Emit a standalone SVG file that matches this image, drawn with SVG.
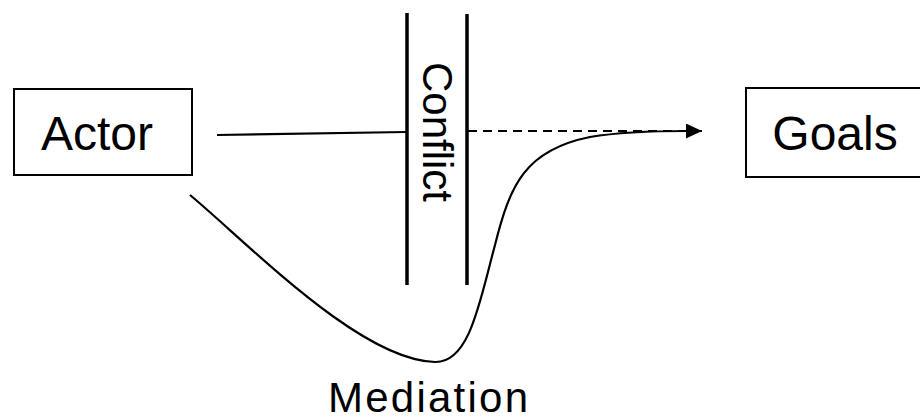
<svg xmlns="http://www.w3.org/2000/svg" width="920" height="420" viewBox="0 0 920 420">
  <style>
    .box { fill: #ffffff; stroke: #000000; stroke-width: 2; }
    .lbl { font-family: "Liberation Sans", Arial, sans-serif; fill: #000000; }
    .bar { stroke: #000000; stroke-width: 3.5; fill: none; }
    .conn { stroke: #000000; stroke-width: 2.2; fill: none; }
  </style>
  <defs>
    <marker id="arrow" markerUnits="userSpaceOnUse" markerWidth="18" markerHeight="16" refX="16" refY="7.5" orient="auto">
      <path d="M0,0 L16,7.5 L0,15 Z" fill="#000000"/>
    </marker>
  </defs>
  <rect width="920" height="420" fill="#ffffff"/>
  <g id="actor">
    <rect class="box" x="14" y="89" width="178" height="86"/>
    <text class="lbl" x="97" y="150" font-size="48" text-anchor="middle">Actor</text>
  </g>
  <g id="goals">
    <rect class="box" x="746" y="88" width="190" height="89"/>
    <text class="lbl" x="835" y="150" font-size="48" text-anchor="middle">Goals</text>
  </g>
  <g id="conflict">
    <line class="bar" x1="407" y1="13" x2="407" y2="285"/>
    <line class="bar" x1="467" y1="14" x2="467" y2="285"/>
    <text class="lbl" transform="translate(423,132) rotate(90)" font-size="42" text-anchor="middle">Conflict</text>
  </g>
  <g id="mediation">
    <text class="lbl" x="428" y="412" font-size="42" text-anchor="middle" textLength="200" lengthAdjust="spacing">Mediation</text>
  </g>
  <g id="connectors">
    <line class="conn" x1="217" y1="135" x2="406" y2="132"/>
    <line class="conn" x1="468" y1="131" x2="702" y2="131" stroke-dasharray="9,6" marker-end="url(#arrow)"/>
    <path class="conn" d="M190,195 C250,245 360,360 435,362 C470,363 480,300 495,245 C510,185 525,150 590,137 C620,132 650,131 688,131"/>
  </g>
</svg>
